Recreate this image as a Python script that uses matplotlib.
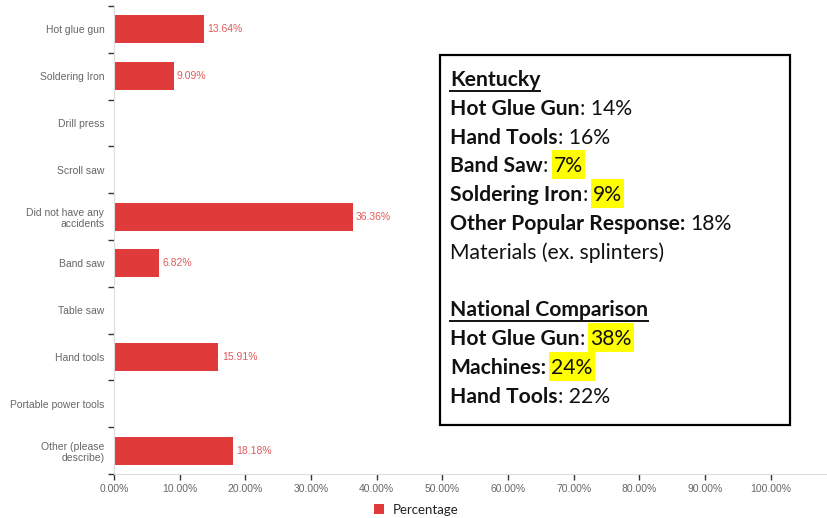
import matplotlib
matplotlib.use("Agg")
import matplotlib.pyplot as plt
from matplotlib.lines import Line2D
from matplotlib.patches import Rectangle, Patch
from matplotlib.ticker import FixedLocator, NullFormatter

categories = ["Hot glue gun", "Soldering Iron", "Drill press", "Scroll saw",
              "Did not have any\naccidents", "Band saw", "Table saw", "Hand tools",
              "Portable power tools", "Other (please\ndescribe)"]
values = [13.64, 9.09, 0, 0, 36.36, 6.82, 0, 15.91, 0, 18.18]
xticks = [0, 10, 20, 30, 40, 50, 60, 70, 80, 90, 100]
series_name = "Percentage"

box_lines = [
    [("Kentucky", "bold", False, True)],
    [("Hot Glue Gun", "bold", False, False), (": 14%", "normal", False, False)],
    [("Hand Tools", "bold", False, False), (": 16%", "normal", False, False)],
    [("Band Saw", "bold", False, False), (": ", "normal", False, False), ("7%", "normal", True, False)],
    [("Soldering Iron", "bold", False, False), (": ", "normal", False, False), ("9%", "normal", True, False)],
    [("Other Popular Response:", "bold", False, False), (" 18%", "normal", False, False)],
    [("Materials (ex. splinters)", "normal", False, False)],
    [],
    [("National Comparison", "bold", False, True)],
    [("Hot Glue Gun", "bold", False, False), (": ", "normal", False, False), ("38%", "normal", True, False)],
    [("Machines: ", "bold", False, False), ("24%", "normal", True, False)],
    [("Hand Tools", "bold", False, False), (": 22%", "normal", False, False)],
]

W, H = 827, 518
BAR = "#e03a3a"
LABEL_RED = "#e05a5a"
GRAY = "#666666"

fig = plt.figure(figsize=(W / 100, H / 100), dpi=100)
ax = fig.add_axes([114 / W, 1 - 474 / H, 1 - 114 / W, (474 - 6) / H])

n = len(categories)
ypos = list(range(n))
ax.barh(ypos, values, height=0.6, color=BAR, zorder=2)
ax.set_ylim(n - 0.5, -0.5)
ax.set_xlim(0, 108.6)

for y, v in zip(ypos, values):
    if v > 0:
        ax.text(v + 0.5, y, f"{v:.2f}%", va="center", ha="left",
                fontsize=7.5, color=LABEL_RED, family="Liberation Sans")

# y axis: ticks at boundaries, labels at centres
ax.yaxis.set_major_locator(FixedLocator([i - 0.5 for i in range(n + 1)]))
ax.yaxis.set_major_formatter(NullFormatter())
ax.yaxis.set_minor_locator(FixedLocator(ypos))
ax.set_yticklabels(categories, minor=True)
ax.tick_params(axis="y", which="major", length=4, width=1, color="#333333", direction="out")
ax.tick_params(axis="y", which="minor", length=0, pad=7, labelsize=7.5, labelcolor=GRAY)
for lab in ax.get_yticklabels(minor=True):
    lab.set_family("Liberation Sans")
    lab.set_ha("right")

ax.set_xticks(xticks)
ax.set_xticklabels([f"{t:.2f}%" for t in xticks], fontsize=7.5, color=GRAY, family="Liberation Sans")
ax.tick_params(axis="x", length=4, width=1, color="#333333", pad=3)

for s in ["top", "right"]:
    ax.spines[s].set_visible(False)
ax.spines["left"].set_color("#dddddd")
ax.spines["bottom"].set_color("#dddddd")

# legend
leg = fig.legend(handles=[Patch(facecolor=BAR, edgecolor="none")], labels=[series_name],
                 loc="center", bbox_to_anchor=(416 / W, 1 - 510 / H), frameon=False,
                 prop={"family": "Lato", "size": 9.5}, handlelength=0.8, handleheight=0.8,
                 handletextpad=0.6)
for t in leg.get_texts():
    t.set_color("#222222")

# annotation box
fig.add_artist(Rectangle((440 / W, 1 - 425 / H), (790 - 440) / W, (425 - 55) / H,
                         transform=fig.transFigure, fill=False, ec="black", lw=1.6, zorder=5))

renderer = fig.canvas.get_renderer()
FS = 15.2
baseline0 = 86
step = 28.8
for i, parts in enumerate(box_lines):
    yb = baseline0 + i * step
    x = 450
    for text, weight, hl, ul in parts:
        lead = len(text) - len(text.lstrip(" "))
        core = text.strip(" ")
        trail = len(text) - len(text.rstrip(" "))
        sp = fig.text(0, 0, "a a", fontsize=FS, family="Lato", weight=weight)
        sp2 = fig.text(0, 0, "aa", fontsize=FS, family="Lato", weight=weight)
        spw = sp.get_window_extent(renderer).width - sp2.get_window_extent(renderer).width
        sp.remove(); sp2.remove()
        x += lead * spw
        t = fig.text(x / W, 1 - yb / H, core, fontsize=FS, family="Lato", weight=weight,
                     color="#111111", va="baseline", ha="left", zorder=7)
        ext = t.get_window_extent(renderer)
        if hl:
            x0, x1 = ext.x0 - 2, ext.x1 + 2
            fig.add_artist(Rectangle((x0 / W, 1 - (yb + 7) / H), (x1 - x0) / W, 29 / H,
                                     transform=fig.transFigure, fc="#ffff00", ec="none", zorder=6))
        if ul:
            fig.add_artist(Line2D([x / W, ext.x1 / W], [1 - (yb + 4.5) / H] * 2,
                                  transform=fig.transFigure, color="#111111", lw=1.4, zorder=6))
        x = ext.x1 + trail * spw

fig.savefig("out.png", dpi=100)
